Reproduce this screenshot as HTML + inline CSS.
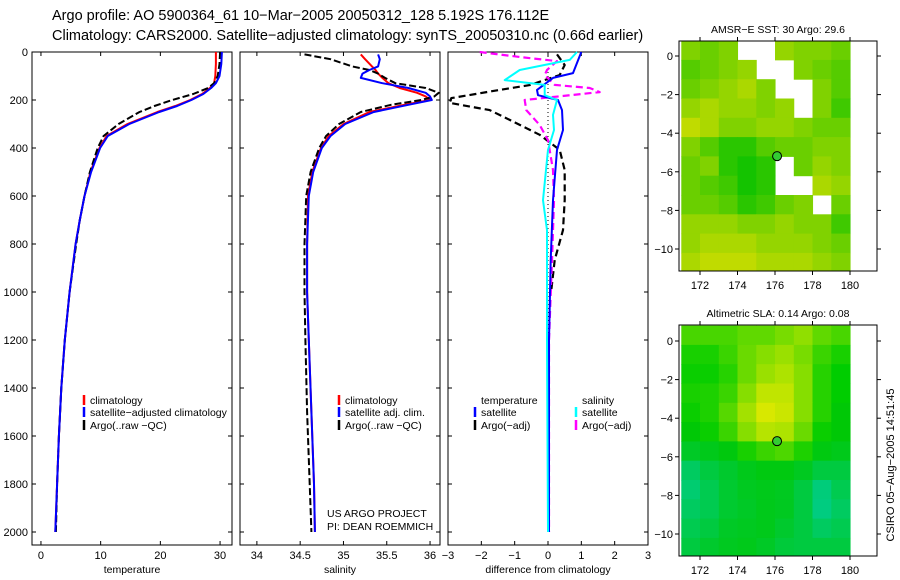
<!DOCTYPE html>
<html><head><meta charset="utf-8">
<style>
html,body{margin:0;padding:0;background:#fff;}
svg{display:block;font-family:"Liberation Sans",sans-serif;}
</style></head>
<body>
<svg id="chart" width="900" height="580" viewBox="0 0 900 580" xmlns="http://www.w3.org/2000/svg">
<text x="52" y="20" font-size="14.5">Argo profile: AO 5900364_61 10−Mar−2005 20050312_128 5.192S 176.112E</text>
<text x="52" y="40" font-size="14.5">Climatology: CARS2000. Satellite−adjusted climatology: synTS_20050310.nc (0.66d earlier)</text>
<text transform="translate(894,465) rotate(-90)" text-anchor="middle" font-size="11">CSIRO 05−Aug−2005 14:51:45</text>
<g id="g"></g>
</svg>
<script>
// ---------- profile data ----------
const depthT = [0,50,100,130,150,175,200,225,250,300,350,400,500,600,700,800,1000,1200,1400,1600,1800,2000];
const tArgo  = [30.0,29.9,29.6,29.0,28.0,25.5,22.0,19.0,16.5,13.0,10.5,9.5,8.2,7.3,6.5,5.9,4.8,4.0,3.4,3.0,2.7,2.5];
const tClim  = [29.3,29.3,29.2,29.0,28.3,27.0,25.0,22.5,19.5,14.5,11.0,9.8,8.3,7.3,6.5,5.8,4.8,4.0,3.4,3.0,2.7,2.4];
const tSat   = [30.3,30.2,29.9,29.3,28.5,27.2,25.2,22.8,19.8,14.8,11.2,9.9,8.4,7.3,6.5,5.8,4.8,4.0,3.4,3.0,2.7,2.4];

const depthS = [10,30,60,75,90,108,130,150,170,185,200,220,250,300,350,400,500,600,800,1000,1200,1500,1800,2000];
const sArgo  = [34.55,34.85,35.1,35.3,35.4,35.48,35.6,35.95,36.1,36.05,35.9,35.55,35.2,34.95,34.8,34.72,34.62,34.57,34.55,34.55,34.56,34.58,34.61,34.63];
const sClim  = [35.2,35.25,35.33,35.37,35.4,35.45,35.52,35.65,35.85,35.95,36.0,35.7,35.3,35.0,34.83,34.74,34.64,34.59,34.58,34.58,34.6,34.63,34.66,34.67];
const sSat   = [35.4,35.42,35.4,35.3,35.22,35.2,35.45,35.75,35.95,36.0,36.02,35.75,35.35,35.02,34.85,34.75,34.65,34.6,34.58,34.58,34.6,34.63,34.66,34.67];

const dDepthTS = [0,88,108,158,180,200,242,325,408,617,867,1200,2000];
const dTSat    = [1.0,0.75,0.15,-0.33,-0.3,0.3,0.42,0.45,0.27,0.15,0.08,0.03,0.03];
const dDepthTA = [10,54,96,138,158,192,212,242,283,345,408,492,617,742,867,992];
const dTArgo   = [0.27,0.5,0.35,-0.55,-1.45,-2.9,-2.95,-1.75,-1.15,-0.25,0.35,0.5,0.5,0.45,0.2,0.1];
const dDepthSS = [0,33,75,117,137,180,200,262,325,408,617,742,1200,2000];
const dSSat    = [0.87,0.65,-0.85,-1.3,-0.1,-0.1,0.27,0.15,0.18,0.0,-0.15,-0.03,-0.03,0.0];
const dDepthSA = [0,21,38,75,96,137,150,167,200,242,304,367,492,617,867,1200,2000];
const dSArgo   = [-2.05,-0.85,0.27,-0.03,-0.1,0.2,1.25,1.55,-0.7,-0.65,-0.25,0.0,0.15,0.18,0.12,0.03,0.03];

const depthTicks = [0,200,400,600,800,1000,1200,1400,1600,1800,2000];
const tTicks = [0,10,20,30];
const sTicks = [34,34.5,35,35.5,36];
const dTicks = [-3,-2,-1,0,1,2,3];

// ---------- map data (1° cells, lon 171..180, rows from lat 0.8 downward) ----------
const lonTicks = [172,174,176,178,180];
const latTicks = [0,-2,-4,-6,-8,-10];
const N = null;
const sstGrid = [
 [.5,.4,.5,N,N,.6,.5,.5,.4],
 [.3,.4,.5,.6,N,N,.5,.4,.3],
 [.4,.5,.6,.7,.5,N,N,.5,.3],
 [.6,.7,.6,.6,.5,.6,N,.5,.2],
 [.8,.7,.5,.5,.6,.6,.5,.4,.4],
 [.5,.3,.1,.1,.3,.4,.4,.5,.5],
 [.4,.5,.1,0,.1,N,.4,.6,.5],
 [.4,.3,.2,0,.1,N,N,.7,.6],
 [.4,.4,.3,.1,.2,.4,.5,N,.4],
 [.6,.6,.6,.5,.5,.6,.5,.5,.2],
 [.6,.7,.7,.7,.6,.6,.6,.5,.4],
 [.7,.8,.8,.8,.7,.7,.7,.6,.5]];
const slaGrid = [
 [.65,.65,.65,.7,.7,.75,.8,.7,.65],
 [.55,.55,.62,.72,.78,.82,.75,.62,.55],
 [.52,.52,.58,.72,.82,.86,.78,.58,.5],
 [.55,.56,.62,.78,.9,.9,.78,.58,.5],
 [.52,.56,.68,.84,.95,.92,.78,.58,.48],
 [.48,.52,.62,.78,.88,.86,.72,.52,.48],
 [.38,.42,.46,.55,.62,.66,.56,.45,.42],
 [.2,.3,.36,.42,.45,.45,.4,.3,.3],
 [.15,.25,.35,.4,.42,.4,.3,.12,.25],
 [.2,.25,.35,.38,.42,.4,.3,.1,.2],
 [.25,.3,.38,.4,.42,.36,.3,.2,.25],
 [.3,.36,.4,.42,.38,.32,.3,.3,.3]];
const floatLon = [176.11];
const floatLat = [-5.19];

// ---------- helpers ----------
const NS="http://www.w3.org/2000/svg";
const G=document.getElementById('g');
function mk(tag,attrs,parent){const e=document.createElementNS(NS,tag);for(const k in attrs)e.setAttribute(k,attrs[k]);(parent||G).appendChild(e);return e;}
function txt(x,y,s,size,anchor){const e=mk('text',{x:x,y:y,'font-size':size||11,'text-anchor':anchor||'start'});e.textContent=s;return e;}

const yTop=52, yPx=0.24;
const yD=d=>yTop+d*yPx;
const panels=[
 {x0:32,x1:232,v0:-1.5,v1:32,ticks:tTicks,label:'temperature',name:'temperature'},
 {x0:240,x1:440,v0:33.805,v1:36.115,ticks:sTicks,label:'salinity',name:'salinity'},
 {x0:448,x1:648,v0:-3,v1:3,ticks:dTicks,label:'difference from climatology',name:'difference'}];
const yBot=545;
panels.forEach((p,i)=>{
  p.sx=v=>p.x0+(v-p.v0)/(p.v1-p.v0)*(p.x1-p.x0);
  const fr=mk('rect',{x:p.x0,y:yTop,width:p.x1-p.x0,height:yBot-yTop,fill:'none',stroke:'#000','stroke-width':1});
  
  
  depthTicks.forEach(d=>{
    const y=yD(d);
    mk('line',{x1:p.x0,x2:p.x0+4,y1:y,y2:y,stroke:'#000'});
    mk('line',{x1:p.x1-4,x2:p.x1,y1:y,y2:y,stroke:'#000'});
    if(i===0){const t=txt(p.x0-4,y+4,String(d),11,'end');
      
      }
  });
  p.ticks.forEach(v=>{
    const x=p.sx(v);
    mk('line',{x1:x,x2:x,y1:yBot,y2:yBot-4,stroke:'#000'});
    mk('line',{x1:x,x2:x,y1:yTop,y2:yTop+4,stroke:'#000'});
    const t=txt(x,559,String(v).replace('-','−'),11,'middle');
    
    
  });
  const xl=txt((p.x0+p.x1)/2,573,p.label,10.5,'middle');
  
  
});
function line(p,depths,vals,color,dash,w,name){
  const pts=depths.map((d,i)=>p.sx(vals[i]).toFixed(1)+','+yD(d).toFixed(1)).join(' ');
  const e=mk('polyline',{points:pts,fill:'none',stroke:color,'stroke-width':w||2,'stroke-dasharray':dash||'none','stroke-linejoin':'round'});
  
  
}
const [pT,pS,pD]=panels;
line(pT,depthT,tClim,'#f00',null,2,'temp-climatology-line');
line(pT,depthT,tArgo,'#000','7,3',2,'temp-argo-line');
line(pT,depthT,tSat,'#00f',null,2,'temp-satellite-line');
line(pS,depthS,sClim,'#f00',null,2,'sal-climatology-line');
line(pS,depthS,sArgo,'#000','7,3',2,'sal-argo-line');
line(pS,depthS,sSat,'#00f',null,2,'sal-satellite-line');
const zl=mk('line',{x1:pD.sx(0),x2:pD.sx(0),y1:yTop,y2:yD(2000),stroke:'#000','stroke-dasharray':'1,3'});


line(pD,dDepthTA,dTArgo,'#000','7,4',2.2,'diff-temp-argo-line');
line(pD,dDepthSA,dSArgo,'#f0f','7,4',2.2,'diff-sal-argo-line');
line(pD,dDepthTS,dTSat,'#00f',null,2,'diff-temp-satellite-line');
line(pD,dDepthSS,dSSat,'#0ff',null,2,'diff-sal-satellite-line');

function legend(x,y,color,label,name){
  if(color){mk('line',{x1:x,x2:x,y1:y-9,y2:y+1,stroke:color,'stroke-width':2.5});}
  const t=txt(x+6,y,label,10.5);
  
  
}
legend(84,404,'#f00','climatology','legend-climatology');
legend(84,416,'#00f','satellite−adjusted climatology','legend-satellite-adjusted');
legend(84,429,'#000','Argo(..raw −QC)','legend-argo');
legend(339,404,'#f00','climatology','legend-sal-climatology');
legend(339,416,'#00f','satellite adj. clim.','legend-sal-satellite');
legend(339,429,'#000','Argo(..raw −QC)','legend-sal-argo');
legend(475,404,null,'temperature','legend-temperature-header');
legend(475,416,'#00f','satellite','legend-diff-temp-satellite');
legend(475,429,'#000','Argo(−adj)','legend-diff-temp-argo');
legend(576,404,null,'salinity','legend-salinity-header');
legend(576,416,'#0ff','satellite','legend-diff-sal-satellite');
legend(576,429,'#f0f','Argo(−adj)','legend-diff-sal-argo');
const u1=txt(327,517,'US ARGO PROJECT',10.5);
const u2=txt(327,530,'PI: DEAN ROEMMICH',10.5);

// ---------- maps ----------
function sstColor(v){ // 0 dark green -> 1 yellow
  const r=Math.round(20+v*215), g=Math.round(195+v*30); return `rgb(${r},${g},0)`;}
function slaColor(v){ // 0 teal, .5 green, 1 yellow
  if(v<0.5){const t=v/0.5;return `rgb(0,${Math.round(205-t*5)},${Math.round(160-t*160)})`;}
  const t=(v-0.5)/0.5;return `rgb(${Math.round(t*240)},${Math.round(205+t*30)},0)`;}
function map(y0,y1,yZero,grid,colorFn,title,name){
  const x0=679,x1=877;
  const lx=l=>700+(l-172)*18.75;
  const lyf=a=>yZero+(-a)*19.3;
  const g=mk('g',{});
  
  
  grid.forEach((row,r)=>row.forEach((v,c)=>{
    if(v===null)return;
    const la=0.8-r, lo=171+c;
    const ya=Math.max(y0,lyf(la)), yb=Math.min(y1,lyf(la-1.0)+0.5);
    mk('rect',{x:lx(lo).toFixed(1),y:ya.toFixed(1),width:19.25,height:(yb-ya).toFixed(2),fill:colorFn(v)},g);
  }));
  mk('rect',{x:lx(180.1),y:y0,width:x1-lx(180.1),height:y1-y0,fill:'#fff'},g);
  const fr=mk('rect',{x:x0,y:y0,width:x1-x0,height:y1-y0,fill:'none',stroke:'#000'});
  
  
  lonTicks.forEach(l=>{const x=lx(l);
    mk('line',{x1:x,x2:x,y1:y1,y2:y1+4,stroke:'#000'});
    mk('line',{x1:x,x2:x,y1:y0,y2:y0-4,stroke:'#000'});
    const t=txt(x,y1+18,String(l),11,'middle');
    
    });
  latTicks.forEach(a=>{const y=lyf(a);
    mk('line',{x1:x0,x2:x0-4,y1:y,y2:y,stroke:'#000'});
    mk('line',{x1:x1,x2:x1+4,y1:y,y2:y,stroke:'#000'});
    const t=txt(x0-6,y+4,String(a).replace('-','−'),11,'end');
    
    });
  floatLon.forEach((lo,i)=>{
    const c=mk('circle',{cx:lx(lo),cy:lyf(floatLat[i]),r:4.5,fill:'#3c3',stroke:'#000','stroke-width':1});
    
    });
  const t=txt(778,y0-8,title,10.5,'middle');
  
  
}
map(41,271,56,sstGrid,sstColor,'AMSR−E SST: 30 Argo: 29.6','sst-map');
map(325,556,341,slaGrid,slaColor,'Altimetric SLA: 0.14 Argo: 0.08','sla-map');
</script>
</body></html>
